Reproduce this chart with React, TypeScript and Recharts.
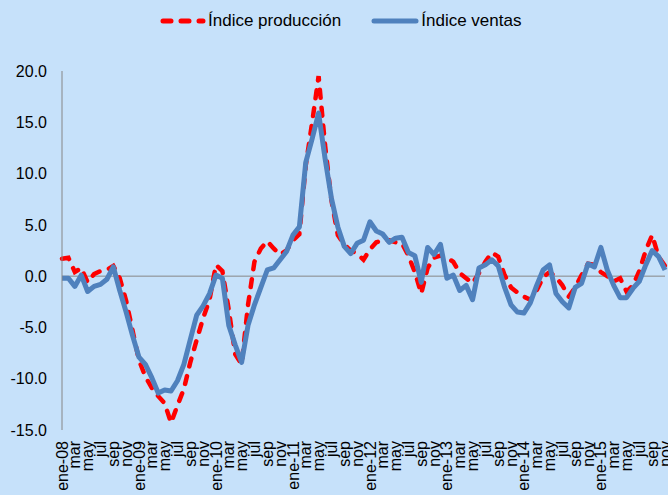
import React from 'react';
import { LineChart, Line, XAxis, YAxis, ReferenceLine } from 'recharts';

const meses = ['ene', 'feb', 'mar', 'abr', 'may', 'jun', 'jul', 'ago', 'sep', 'oct', 'nov', 'dic'];
const anios = ['08', '09', '10', '11', '12', '13', '14', '15'];
const yTicks = [-15, -10, -5, 0, 5, 10, 15, 20];

// Índice producción (ene-08 .. nov-15)
const produccion = [
  1.7, 1.8, 0.4, 0.8, -0.6, 0.2, 0.5, 0.6, 1.0, -0.2, -2.4, -5.3,
  -8.2, -9.8, -10.9, -11.7, -12.4, -14.3, -12.6, -11.0, -8.4, -6.2, -4.1, -2.3,
  1.1, 0.5, -3.3, -7.6, -8.6, -2.8, 1.4, 2.7, 3.4, 2.7, 2.1, 2.5,
  3.5, 4.1, 10.8, 15.0, 19.5, 12.8, 7.4, 4.0, 3.1, 2.5, 2.2, 1.6,
  2.6, 3.3, 3.5, 3.5, 3.3, 3.2, 2.0, 0.4, -1.7, 0.8, 1.8, 2.0,
  1.8, 1.4, 0.3, -0.2, -0.7, 0.3, 1.4, 2.3, 1.9, 0.1, -1.1, -1.6,
  -2.0, -2.3, -1.4, -0.1, 0.4, -0.1, -0.9, -2.0, -1.1, 0.1, 1.2, 1.1,
  0.4, 0.0, -0.5, -0.2, -1.5, -0.9, 0.5, 2.5, 4.0, 1.9, 1.0,
];

// Índice ventas
const ventas = [
  -0.2, -0.2, -1.0, 0.1, -1.5, -1.0, -0.8, -0.3, 0.9, -1.4, -3.5, -5.8,
  -7.9, -8.6, -9.9, -11.4, -11.1, -11.2, -10.2, -8.6, -6.2, -3.8, -2.9, -1.7,
  0.1, -0.2, -4.8, -6.7, -8.4, -4.8, -2.8, -1.1, 0.6, 0.8, 1.6, 2.4,
  4.0, 4.8, 11.1, 13.4, 15.9, 11.5, 7.6, 4.8, 2.9, 2.2, 3.2, 3.5,
  5.3, 4.4, 4.1, 3.3, 3.7, 3.8, 2.3, 2.0, -0.6, 2.8, 2.1, 3.1,
  -0.2, 0.1, -1.4, -0.9, -2.3, 0.8, 1.1, 1.6, 1.0, -1.1, -2.8, -3.5,
  -3.6, -2.6, -0.9, 0.6, 1.1, -1.7, -2.5, -3.1, -1.1, -0.7, 1.2, 0.9,
  2.8, 0.6, -0.9, -2.1, -2.1, -1.2, -0.5, 1.1, 2.5, 1.9, 0.6,
];

const categorias: string[] = [];
anios.forEach((a) => meses.forEach((m, i) => categorias.push(i === 0 ? `${m}-${a}` : m)));

const data = produccion.map((p, i) => ({ mes: categorias[i], produccion: p, ventas: ventas[i] }));

const FONT = '"Liberation Sans", Arial, sans-serif';
const RED = '#FF0000';
const BLUE = '#4F81BD';

const XTick = ({ x, y, payload }: any) => (
  <text
    x={x}
    y={y}
    dy="0.35em"
    transform={`rotate(-90 ${x} ${y})`}
    textAnchor="end"
    fontSize={16}
    fontFamily={FONT}
    fill="#000"
  >
    {payload.value}
  </text>
);

// legend drawn outside the chart so it doesn't eat into the plot margin
const Leyenda = () => (
  <div
    style={{
      position: 'absolute', top: 11, left: 160, display: 'flex', alignItems: 'center',
      fontFamily: FONT, fontSize: 17, color: '#000', lineHeight: '20px',
    }}
  >
    <svg width={46} height={12}>
      <line x1={3} y1={6} x2={43} y2={6} stroke={RED} strokeWidth={5} strokeDasharray="8 10" strokeLinecap="round" />
    </svg>
    <span style={{ marginLeft: 2, marginRight: 30 }}>Índice producción</span>
    <svg width={48} height={12}>
      <line x1={3} y1={6} x2={45} y2={6} stroke={BLUE} strokeWidth={5} strokeLinecap="round" />
    </svg>
    <span style={{ marginLeft: 2 }}>Índice ventas</span>
  </div>
);

export default function App() {
  return (
    <div style={{ position: 'absolute', left: 0, top: 0, width: 668, height: 495, background: '#C6E1FA', overflow: 'hidden' }}>
      <Leyenda />
      <LineChart width={668} height={495} data={data} margin={{ top: 71, right: 3, bottom: 0, left: 0 }}>
        <XAxis
          dataKey="mes"
          interval={1}
          height={65}
          axisLine={false}
          tickLine={false}
          tickSize={0}
          tickMargin={11}
          tick={<XTick />}
        />
        <YAxis
          domain={[-15, 20]}
          ticks={yTicks}
          width={62}
          tickFormatter={(v: number) => v.toFixed(1)}
          axisLine={{ stroke: '#868686', strokeWidth: 1 }}
          tickLine={false}
          tickSize={0}
          tickMargin={15}
          tick={{ fontSize: 16, fontFamily: FONT, fill: '#000' }}
          allowDataOverflow
        />
        <ReferenceLine y={0} stroke="#868686" strokeWidth={1} />
        <Line
          type="linear"
          dataKey="produccion"
          stroke={RED}
          strokeWidth={4.5}
          strokeDasharray="8 10"
          strokeLinecap="round"
          dot={false}
          isAnimationActive={false}
        />
        <Line
          type="linear"
          dataKey="ventas"
          stroke={BLUE}
          strokeWidth={5}
          strokeLinejoin="round"
          dot={false}
          isAnimationActive={false}
        />
      </LineChart>
    </div>
  );
}
